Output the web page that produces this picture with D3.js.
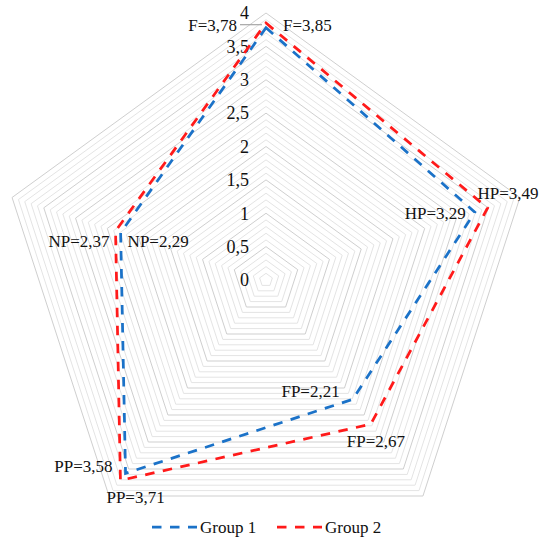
<!DOCTYPE html>
<html>
<head>
<meta charset="utf-8">
<script src="https://cdn.jsdelivr.net/npm/d3@7"></script>
<style>
  body { margin: 0; background: #fff; }
</style>
</head>
<body>
<script>
// data
var axes = ["F", "HP", "FP", "PP", "NP"];
var group1 = [3.78, 3.29, 2.21, 3.58, 2.29];
var group2 = [3.85, 3.49, 2.67, 3.71, 2.37];
var seriesNames = ["Group 1", "Group 2"];
var tickValues = [0, 0.5, 1, 1.5, 2, 2.5, 3, 3.5, 4];
var tickLabels = ["0", "0,5", "1", "1,5", "2", "2,5", "3", "3,5", "4"];

var width = 541, height = 541,
    cx = 266, cy = 280,
    serif = "'Liberation Serif'";

var colors = ["#1b72c8", "#ff1a1a"];

var svg = d3.select("body").append("svg")
    .attr("width", width)
    .attr("height", height);

var r = d3.scaleLinear().domain([0, 4]).range([0, 267]);

var angle = d3.scalePoint()
    .domain(axes.concat(["_end"]))
    .range([-Math.PI / 2, -Math.PI / 2 + 2 * Math.PI]);

function pt(axis, v) {
  var a = angle(axis);
  return [cx + r(v) * Math.cos(a), cy + r(v) * Math.sin(a)];
}

var line = d3.line().curve(d3.curveLinearClosed);

// gridlines every 0.1, darker every 0.5
var gridLevels = d3.range(1, 41).map(function(i) { return i / 10; });
svg.append("g").selectAll("path")
    .data(gridLevels)
    .enter().append("path")
    .attr("d", function(v) { return line(axes.map(function(a) { return pt(a, v); })); })
    .attr("fill", "none")
    .attr("stroke", function(v, i) { return (i + 1) % 5 === 0 ? "#cfcfcf" : "#e4e4e4"; })
    .attr("stroke-width", 1);

// tick labels
svg.append("g").selectAll("text")
    .data(tickValues)
    .enter().append("text")
    .attr("x", cx - 17)
    .attr("y", function(v) { return cy - r(v); })
    .attr("dy", "0.35em")
    .attr("text-anchor", "end")
    .style("font-family", serif)
    .style("font-size", "18px")
    .style("fill", "#111")
    .text(function(v, i) { return tickLabels[i]; });

// series
var series = [group1, group2];
svg.append("g").selectAll("path")
    .data(series)
    .enter().append("path")
    .attr("d", function(s) { return line(axes.map(function(a, i) { return pt(a, s[i]); })); })
    .attr("fill", "none")
    .attr("stroke", function(s, i) { return colors[i]; })
    .attr("stroke-width", 2.75)
    .attr("stroke-dasharray", "9.5,8.5");

// data labels (offsets from each point)
var offsets1 = [[-29, -3], [-9, 1], [-13, -8], [-13, -7], [7, 8]];
var offsets2 = [[17, 2], [-10, -15], [-24, 17], [-14, 17], [-6, 10]];
var anchors1 = ["end", "end", "end", "end", "start"];
var anchors2 = ["start", "start", "start", "start", "end"];

function fmt(v) { return d3.format(".2f")(v).replace(".", ","); }

var labelSets = [
  {data: group1, off: offsets1, anc: anchors1},
  {data: group2, off: offsets2, anc: anchors2}
];

labelSets.forEach(function(ls) {
  svg.append("g").selectAll("text")
      .data(axes)
      .enter().append("text")
      .attr("x", function(a, i) { return pt(a, ls.data[i])[0] + ls.off[i][0]; })
      .attr("y", function(a, i) { return pt(a, ls.data[i])[1] + ls.off[i][1]; })
      .attr("dy", "0.35em")
      .attr("text-anchor", function(a, i) { return ls.anc[i]; })
      .style("font-family", serif)
      .style("font-size", "17px")
      .style("fill", "#111")
      .text(function(a, i) { return a + "=" + fmt(ls.data[i]); });
});

// leader line for F=3,78
var pF = pt("F", group1[0]);
svg.append("line")
    .attr("x1", pF[0] - 26).attr("y1", pF[1] - 3)
    .attr("x2", pF[0] - 4).attr("y2", pF[1] - 3)
    .attr("stroke", "#a6a6a6")
    .attr("stroke-width", 1.2);

// legend
var legend = svg.append("g").attr("transform", "translate(152,527)");
var item = legend.selectAll("g")
    .data(seriesNames)
    .enter().append("g")
    .attr("transform", function(d, i) { return "translate(" + (i * 125) + ",0)"; });
item.append("line")
    .attr("x1", 0).attr("x2", 45)
    .attr("y1", 0).attr("y2", 0)
    .attr("stroke", function(d, i) { return colors[i]; })
    .attr("stroke-width", 2.75)
    .attr("stroke-dasharray", "9.5,8.5");
item.append("text")
    .attr("x", 48)
    .attr("dy", "0.35em")
    .style("font-family", serif)
    .style("font-size", "17px")
    .style("fill", "#111")
    .text(function(d) { return d; });
</script>
</body>
</html>
